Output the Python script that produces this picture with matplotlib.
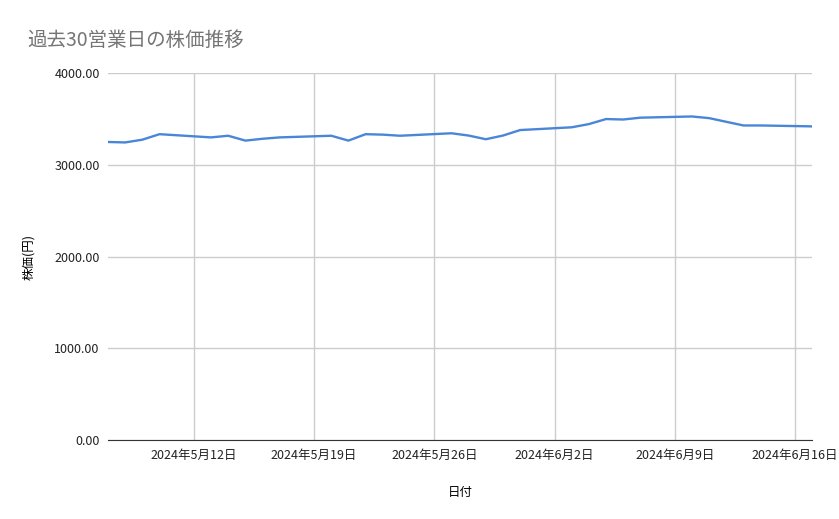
import matplotlib
matplotlib.use("Agg")
import matplotlib.pyplot as plt
import pandas as pd

plt.rcParams['font.family'] = ['Noto Sans CJK JP', 'DejaVu Sans']

dates = ["2024-05-07","2024-05-08","2024-05-09","2024-05-10","2024-05-13","2024-05-14",
         "2024-05-15","2024-05-16","2024-05-17","2024-05-20","2024-05-21","2024-05-22",
         "2024-05-23","2024-05-24","2024-05-27","2024-05-28","2024-05-29","2024-05-30",
         "2024-05-31","2024-06-03","2024-06-04","2024-06-05","2024-06-06","2024-06-07",
         "2024-06-10","2024-06-11","2024-06-12","2024-06-13","2024-06-14","2024-06-17"]
prices = [3250,3245,3275,3335,3300,3318,3265,3285,3300,3318,3265,3335,
          3330,3318,3345,3320,3280,3320,3380,3410,3445,3500,3495,3515,
          3528,3510,3470,3430,3430,3420]
tick_dates = ["2024-05-12","2024-05-19","2024-05-26","2024-06-02","2024-06-09","2024-06-16"]
tick_labels = ["2024年5月12日","2024年5月19日","2024年5月26日","2024年6月2日","2024年6月9日","2024年6月16日"]
yticks = [0,1000,2000,3000,4000]

x = pd.to_datetime(dates)
fig = plt.figure(figsize=(8.39,5.19), dpi=100)
ax = fig.add_axes([0.1287,0.152,0.8393,0.707])
ax.plot(x, prices, color='#4a86d8', lw=1.7)
ax.set_xlim(x[0], x[-1])
ax.set_ylim(0,4000)
ax.set_yticks(yticks)
ax.set_yticklabels([f"{v:.2f}" for v in yticks])
ax.set_xticks(pd.to_datetime(tick_dates))
ax.set_xticklabels(tick_labels)
ax.grid(True, color='#cccccc', lw=1)
ax.set_axisbelow(True)
for s in ['top','right','left']:
    ax.spines[s].set_visible(False)
ax.spines['bottom'].set_color('#333333')
ax.tick_params(length=0, labelsize=9, colors='#222222', pad=6)
ax.set_xlabel("日付", fontsize=9, labelpad=18)
ax.set_ylabel("株価(円)", fontsize=9, labelpad=14)
fig.text(0.033, 0.923, "過去30営業日の株価推移", fontsize=14, color='#757575', va='center')
fig.savefig("out.png")
